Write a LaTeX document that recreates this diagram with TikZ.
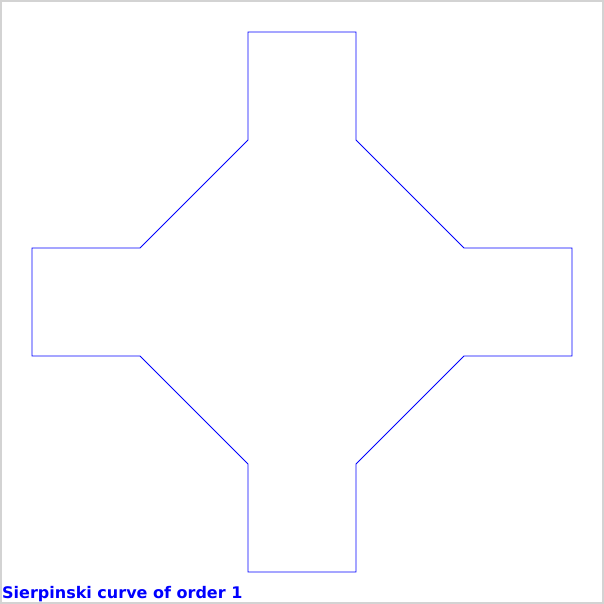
\documentclass[tikz,border=0pt]{standalone}
\usepackage{fontspec}
\setmainfont{DejaVu Sans}
\begin{document}
\begin{tikzpicture}[x=1pt,y=-1pt]
\definecolor{cadre}{RGB}{211,211,211}
\useasboundingbox (0,0) rectangle (604,604);
\draw[cadre,line width=2pt] (1,1) rectangle (603,603);
% the curve, corner by corner
\draw[blue,line width=0.9pt] (248,32) -- (356,32) -- (356,140) -- (464,248) -- (572,248)
  -- (572,356) -- (464,356) -- (356,464) -- (356,572) -- (248,572) -- (248,464)
  -- (140,356) -- (32,356) -- (32,248) -- (140,248) -- (248,140) -- cycle;
\node[anchor=base west,inner sep=0pt,text=blue,font=\bfseries\fontsize{16}{18}\selectfont] (titre) at (2,598) {Sierpinski curve of order 1};
\end{tikzpicture}
\end{document}
